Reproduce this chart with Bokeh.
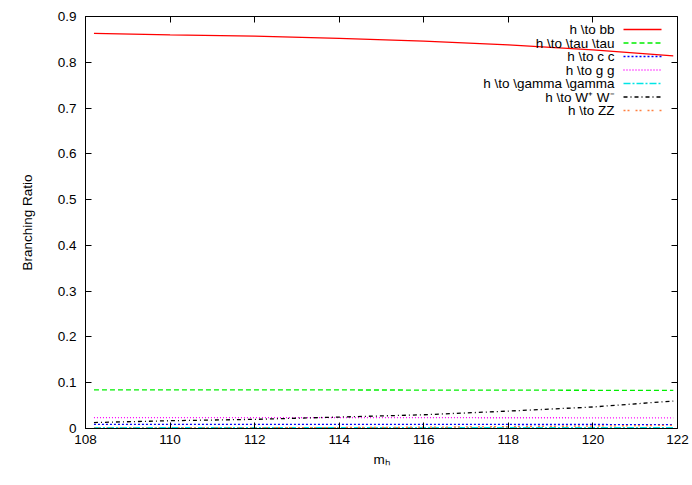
from bokeh.plotting import figure
from bokeh.models import LinearAxis, FixedTicker, NumeralTickFormatter, Range1d
from bokeh.embed import file_html
from bokeh.resources import INLINE
from bokeh.core.properties import value

# ---- data ----
mh = [108.2, 110, 112, 114, 116, 118, 120, 121.9]
br_bb = [0.863, 0.860, 0.857, 0.852, 0.846, 0.838, 0.827, 0.814]
br_tautau = [0.0845, 0.0845, 0.0843, 0.0842, 0.0840, 0.0838, 0.0835, 0.0832]
br_cc = [0.0092, 0.0091, 0.0090, 0.0090, 0.0089, 0.0088, 0.0087, 0.0086]
br_gg = [0.0238, 0.0238, 0.0237, 0.0237, 0.0236, 0.0235, 0.0234, 0.0233]
br_gamgam = [0.0020, 0.0020, 0.0020, 0.0021, 0.0021, 0.0021, 0.0021, 0.0021]
br_ww = [0.013, 0.017, 0.020, 0.025, 0.030, 0.038, 0.047, 0.060]
br_zz = [0.0005, 0.0010, 0.0015, 0.0021, 0.0029, 0.0040, 0.0054, 0.0070]

labels = ["h \\to bb", "h \\to \\tau \\tau", "h \\to c c", "h \\to g g",
          "h \\to \\gamma \\gamma", "h \\to W\u207a W\u207b", "h \\to ZZ"]
series = [br_bb, br_tautau, br_cc, br_gg, br_gamgam, br_ww, br_zz]
colors = ["#ff0000", "#00ee00", "#0000ff", "#ff00ff", "#00e5e5", "#000000", "#ff8040"]
dashes = ["solid", "5 3", "2 2", "1 2", "7 2 2 2", "4 3 1 3", "2 2 2 6"]

x_ticks = [108, 110, 112, 114, 116, 118, 120, 122]
y_ticks = [0, 0.1, 0.2, 0.3, 0.4, 0.5, 0.6, 0.7, 0.8, 0.9]

X0, X1 = 108, 122
Y0, Y1 = 0, 0.9
FONT = "Liberation Sans"
FS = "13.5px"
LW = 1.3

W, H = 690, 480
ML, MR, MT, MB = 85, 13, 16, 52
FW, FH = W - ML - MR, H - MT - MB

p = figure(width=W, height=H, output_backend="svg", toolbar_location=None,
           x_range=Range1d(X0, X1), y_range=Range1d(Y0, Y1),
           min_border_left=ML, min_border_right=MR, min_border_top=MT,
           min_border_bottom=MB)
p.xgrid.visible = False
p.ygrid.visible = False
p.outline_line_color = "black"
p.outline_line_width = 1
p.background_fill_color = "white"
p.border_fill_color = "white"

for ax, ticks, fmt in ((p.xaxis[0], x_ticks, "0"), (p.yaxis[0], y_ticks, "0.[0]")):
    ax.ticker = FixedTicker(ticks=ticks)
    ax.formatter = NumeralTickFormatter(format=fmt)
    ax.major_tick_in = 6
    ax.major_tick_out = 0
    ax.minor_tick_line_color = None
    ax.major_tick_line_color = "black"
    ax.axis_line_color = "black"
    ax.major_label_text_font = FONT
    ax.major_label_text_font_size = FS
    ax.major_label_text_color = "black"
    ax.axis_label_text_font = FONT
    ax.axis_label_text_font_size = FS
    ax.axis_label_text_font_style = "normal"
    ax.axis_label_text_color = "black"

p.xaxis[0].axis_label = "m\u2095"
p.xaxis[0].major_label_standoff = 6
p.xaxis[0].axis_label_standoff = 5
p.yaxis[0].axis_label = "Branching Ratio"
p.yaxis[0].major_label_standoff = 9
p.yaxis[0].axis_label_standoff = 20

# mirrored tick marks on top and right (no labels)
for side, ticks in (("right", y_ticks), ("above", x_ticks)):
    ax = LinearAxis(ticker=FixedTicker(ticks=ticks))
    ax.major_tick_in = 6
    ax.major_tick_out = 0
    ax.major_tick_line_color = "black"
    ax.minor_tick_line_color = None
    ax.axis_line_color = None
    ax.major_label_text_font_size = "1px"
    ax.major_label_text_color = None
    ax.major_label_standoff = 0
    p.add_layout(ax, side)

for ys, c, d in zip(series, colors, dashes):
    p.line(mh, ys, line_color=c, line_dash=d, line_width=LW)

# ---- key (top right, gnuplot style: text right-aligned, sample to its right) ----
dx = (X1 - X0) / FW
dy = (Y1 - Y0) / FH
for i, (lab, c, d) in enumerate(zip(labels, colors, dashes)):
    yy = Y1 - (13 + 13.5 * i) * dy
    p.text(x=[X1 - 63 * dx], y=[yy], text=[lab], text_font=value(FONT),
           text_font_size=FS, text_align="right", text_baseline="middle",
           text_color="black")
    p.line(x=[X1 - 54 * dx, X1 - 16 * dx], y=[yy, yy], line_color=c,
           line_dash=d, line_width=LW)

open("out.html", "w").write(file_html(p, INLINE))
